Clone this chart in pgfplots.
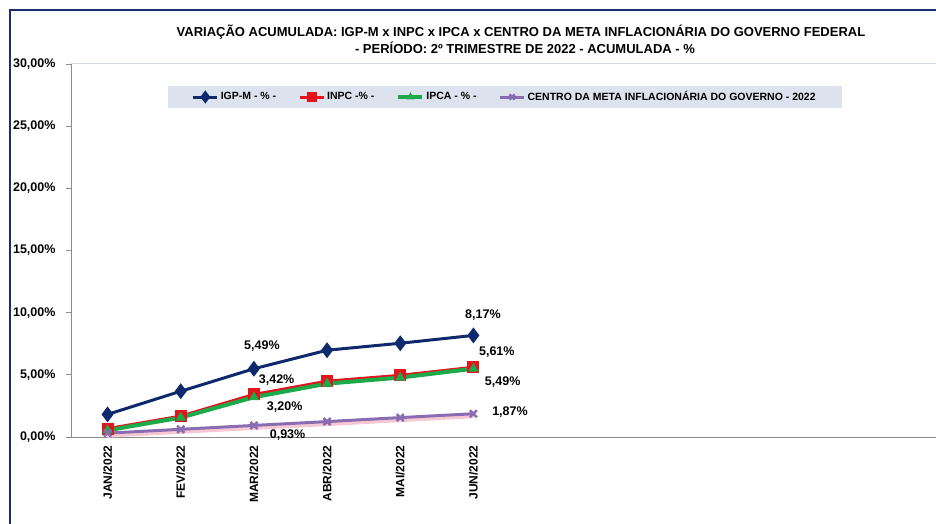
\documentclass[border=0pt]{standalone}
\usepackage{fontspec}
\setmainfont{Liberation Sans}
\usepackage{pgfplots}
\pgfplotsset{compat=1.18}
\definecolor{navy}{HTML}{0E2A6C}
\definecolor{inpc}{HTML}{E3141B}
\definecolor{ipca}{HTML}{1CAA4A}
\definecolor{meta}{HTML}{8A6CB3}
\definecolor{glow}{HTML}{F6C9D2}
\definecolor{legbg}{HTML}{DCE3EE}
\definecolor{axgray}{HTML}{8C8C8C}
\definecolor{toplin}{HTML}{D5DCE6}
\definecolor{frame}{HTML}{1A2F6E}
\begin{document}
\begin{tikzpicture}[x=1pt,y=1pt]
\useasboundingbox (0,0) rectangle (936,524);
\draw[frame, line width=2pt] (10,0) -- (10,514) -- (940,514);
\node[font=\bfseries\fontsize{13}{15}\selectfont] at (521,492) {VARIAÇÃO ACUMULADA: IGP-M x INPC x IPCA x CENTRO DA META INFLACIONÁRIA DO GOVERNO FEDERAL};
\node[font=\bfseries\fontsize{13}{15}\selectfont] at (525,476) {- PERÍODO: 2º TRIMESTRE DE 2022 - ACUMULADA - \%};
\begin{axis}[
  at={(71pt,87pt)}, anchor=south west,
  scale only axis, width=878pt, height=373pt,
  xmin=-0.5, xmax=11.5, ymin=0, ymax=30,
  axis lines=left, axis line style={-, axgray, line width=0.8pt},
  clip=false,
  tick align=outside,
  ytick={0,5,10,15,20,25,30},
  yticklabels={{0,00\%},{5,00\%},{10,00\%},{15,00\%},{20,00\%},{25,00\%},{30,00\%}},
  ytick style={axgray, line width=0.8pt},
  major tick length=5pt,
  xtick={0,1,2,3,4,5},
  xticklabels={JAN/2022,FEV/2022,MAR/2022,ABR/2022,MAI/2022,JUN/2022},
  xtick style={draw=none},
  minor xtick={-0.5,0.5,...,11.5},
  minor x tick style={axgray, line width=0.8pt},
  minor tick length=5pt,
  xticklabel style={rotate=90, anchor=east, font=\bfseries\fontsize{12}{14}\selectfont},
  yticklabel style={font=\bfseries\fontsize{12.5}{14}\selectfont, xshift=-7pt},
  legend style={at={(axis description cs:0.494,0.9115)}, anchor=center, fill=legbg, draw=none,
    font=\bfseries\fontsize{10.5}{12}\selectfont, inner xsep=24pt, inner ysep=4pt},
  legend columns=4,
  legend cell align=left,
  /tikz/every odd column/.append style={column sep=0pt},
  /tikz/every even column/.append style={column sep=20pt},
  legend image code/.code={\draw[mark repeat=2,mark phase=2, every mark/.append style={scale=0.75}] plot coordinates {(0pt,0pt) (12pt,0pt) (24pt,0pt)};},
]
\draw[toplin, line width=1pt] (rel axis cs:0,1) -- (rel axis cs:1,1);
\addplot[navy, line width=3pt, mark=diamond*, mark size=5.5pt, mark options={solid, fill=navy}]
  coordinates {(0,1.82) (1,3.68) (2,5.49) (3,6.98) (4,7.54) (5,8.17)};
\addlegendentry{IGP-M - \% -}
\addplot[inpc, line width=3pt, mark=square*, mark size=4.5pt, mark options={solid, fill=inpc}]
  coordinates {(0,0.67) (1,1.68) (2,3.42) (3,4.49) (4,4.96) (5,5.61)};
\addlegendentry{INPC -\% -}
\addplot[ipca, line width=4pt, mark=triangle*, mark size=5pt, mark options={solid, fill=ipca, line width=1pt}]
  coordinates {(0,0.54) (1,1.56) (2,3.20) (3,4.29) (4,4.78) (5,5.49)};
\addlegendentry{IPCA - \% -}
\addplot[glow, line width=5pt, yshift=-2pt, forget plot]
  coordinates {(0,0.31) (1,0.62) (2,0.93) (3,1.24) (4,1.56) (5,1.87)};
\addplot[meta, line width=3pt, mark=x, mark size=5pt, mark options={solid, line width=2.5pt}]
  coordinates {(0,0.31) (1,0.62) (2,0.93) (3,1.24) (4,1.56) (5,1.87)};
\addlegendentry{CENTRO DA META INFLACIONÁRIA DO GOVERNO - 2022}
\begin{scope}[every node/.style={font=\bfseries\fontsize{12.5}{14}\selectfont}]
\node at (axis cs:5.13,9.81) {8,17\%};
\node at (axis cs:5.32,6.84) {5,61\%};
\node at (axis cs:5.40,4.42) {5,49\%};
\node at (axis cs:5.50,2.01) {1,87\%};
\node at (axis cs:2.11,7.32) {5,49\%};
\node at (axis cs:2.31,4.59) {3,42\%};
\node at (axis cs:2.42,2.41) {3,20\%};
\node at (axis cs:2.46,0.16) {0,93\%};
\end{scope}
\end{axis}
\end{tikzpicture}
\end{document}
